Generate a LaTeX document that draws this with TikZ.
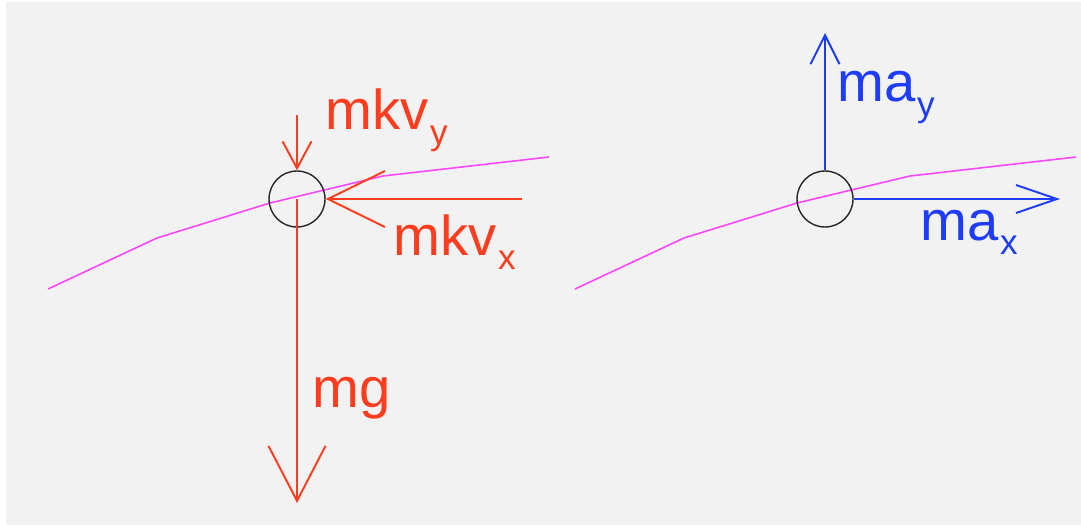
\documentclass[tikz,border=0pt]{standalone}
\usepackage{fontspec}
\setmainfont{Liberation Sans}
\usetikzlibrary{arrows.meta,positioning}
\definecolor{rojoF}{RGB}{255,60,30}
\definecolor{azulA}{RGB}{30,60,250}
\definecolor{magTray}{RGB}{250,70,250}
\definecolor{fondoG}{RGB}{242,242,242}
\newcommand{\subidx}[1]{\kern1pt\raisebox{-8.5pt}{\fontsize{20}{20}\selectfont #1}}

\begin{document}
\begin{tikzpicture}[x=0.02cm, y=-0.02cm,
      bola/.style  = {circle, draw=black!85, line width=0.8pt, minimum size=1.12cm, inner sep=0pt},
      fuerza/.style = {draw=rojoF, line width=1.1pt},
      accel/.style  = {draw=azulA, line width=1.1pt},
      tray/.style   = {draw=magTray, line width=0.9pt},
      lbl/.style    = {anchor=base west, inner sep=0pt, font=\fontsize{32}{32}\selectfont},
    ]
    % ── Fondo ────────────────────────────────────────────────────
    \useasboundingbox[fill=white] (0,0) rectangle (1081,527);
    \fill[fondoG] (6,2) rectangle (1081,525);

    % ── Trayectorias ─────────────────────────────────────────────
    \foreach \dx in {0,527}
      \draw[tray] (48+\dx,289) -- (157+\dx,238) -- (270+\dx,203) -- (383+\dx,176)
                  -- (549+\dx,157);

    % ── Cuerpos ──────────────────────────────────────────────────
    \node[bola] (bolaA) at (297,199) {};
    \node[bola] (bolaB) at (825,199) {};

    % ── Fuerzas (izquierda) ──────────────────────────────────────
    \coordinate (gTip)    at (297,503);
    \coordinate (kvyTail) at (297,115);
    \coordinate (kvxTail) at (522,199);
    \draw[fuerza,-{Straight Barb[length=1.1cm,width=1.14cm]}]  (bolaA.center) -- (gTip);
    \draw[fuerza,-{Straight Barb[length=0.54cm,width=0.58cm]}] (kvyTail) -- (bolaA.north);
    \draw[fuerza,-{Straight Barb[length=1.14cm,width=1.12cm]}] (kvxTail) -- (bolaA.east);

    \node[lbl,text=rojoF] (lblKvy) at (325,130) {mkv\subidx{y}};
    \node[lbl,text=rojoF] (lblKvx) at (393,255) {mkv\subidx{x}};
    \node[lbl,text=rojoF] (lblMg)  at (312,407) {mg};

    % ── Aceleraciones (derecha) ──────────────────────────────────
    \coordinate (ayTip) at (825,33);
    \coordinate (axTip) at (1060,199);
    \draw[accel,-{Straight Barb[length=0.58cm,width=0.58cm]}] (bolaB.north) -- (ayTip);
    \draw[accel,-{Straight Barb[length=0.82cm,width=0.56cm]}] (bolaB.east) -- (axTip);

    \node[lbl,text=azulA] (lblMay) at (837,102) {ma\subidx{y}};
    \node[lbl,text=azulA] (lblMax) at (920,240) {ma\subidx{x}};

  \end{tikzpicture}
\end{document}
